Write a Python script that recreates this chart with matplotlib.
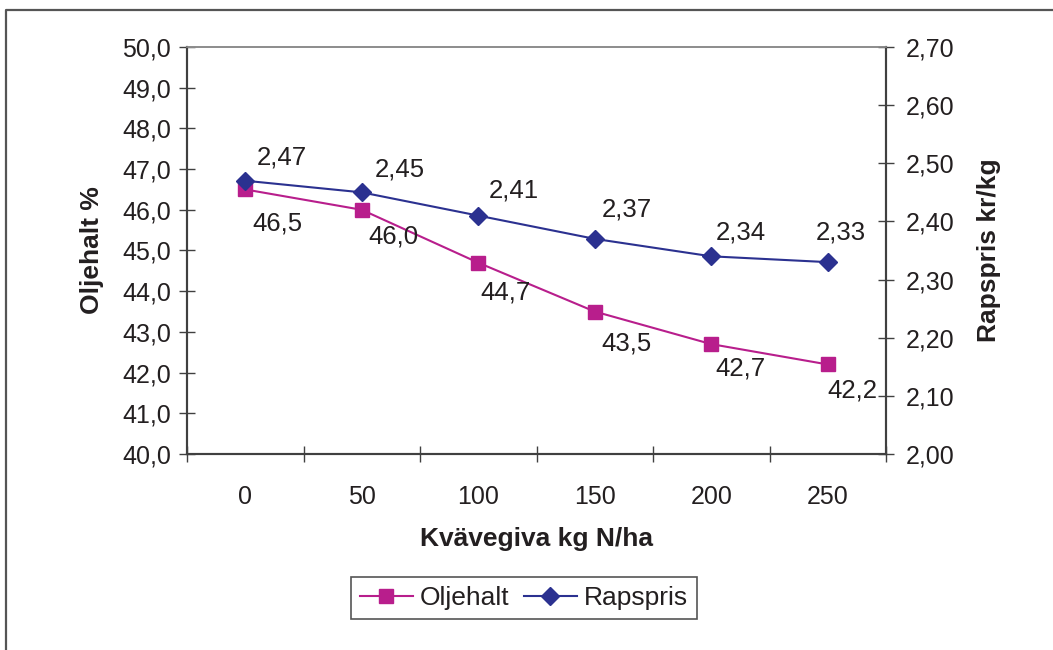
import matplotlib.pyplot as plt
from matplotlib.lines import Line2D
from matplotlib.ticker import FixedLocator, FuncFormatter

plt.rcParams['font.family'] = ['Liberation Sans', 'DejaVu Sans']

##### Data ###########################################################
kvave = ['0', '50', '100', '150', '200', '250']
oljehalt = [46.5, 46.0, 44.7, 43.5, 42.7, 42.2]
rapspris = [2.47, 2.45, 2.41, 2.37, 2.34, 2.33]

# label offsets (pixels) as placed in the original chart
olj_off = [(32, -34), (32, -27), (27, -30), (32, -32), (29, -24), (25, -26)]
rap_off = [(37, 23), (38, 23), (36, 25), (32, 29), (30, 24), (13, 30)]

MAG = '#B81E8C'
NAVY = '#2B3190'
TXT = '#231F20'
AX = '#404040'
FS = 18
FS_LAB = 18.5
FS_BOLD = 19

fig = plt.figure(figsize=(10.53, 6.5), dpi=100)
ax = fig.add_axes([187 / 1053, 1 - 454 / 650, 699 / 1053, 407 / 650])
ax2 = ax.twinx()

x = list(range(len(kvave)))
l1, = ax.plot(x, oljehalt, color=MAG, lw=1.5, marker='s', markersize=9.5,
              label='Oljehalt', zorder=3)
l2, = ax2.plot(x, rapspris, color=NAVY, lw=1.5, marker='D', markersize=9,
               label='Rapspris', zorder=3)

for xi, v, off in zip(x, oljehalt, olj_off):
    ax.annotate(f'{v:.1f}'.replace('.', ','), (xi, v), xytext=off,
                textcoords='offset pixels', ha='center', va='center',
                fontsize=FS_LAB, color=TXT)
for xi, v, off in zip(x, rapspris, rap_off):
    ax2.annotate(f'{v:.2f}'.replace('.', ','), (xi, v), xytext=off,
                 textcoords='offset pixels', ha='center', va='center',
                 fontsize=FS_LAB, color=TXT)

##### Axes ###########################################################
ax.set_xlim(-0.5, len(kvave) - 0.5)
ax.set_ylim(40, 50)
ax2.set_ylim(2.0, 2.7)

ax.xaxis.set_major_locator(FixedLocator([i - 0.5 for i in range(len(kvave) + 1)]))
ax.xaxis.set_minor_locator(FixedLocator(x))
ax.xaxis.set_major_formatter(FuncFormatter(lambda v, p: ''))
ax.xaxis.set_minor_formatter(FuncFormatter(lambda v, p: kvave[int(round(v))]))
ax.tick_params(axis='x', which='major', direction='inout', length=11, width=1, color=AX)
ax.tick_params(axis='x', which='minor', length=0, pad=22, labelsize=FS, labelcolor=TXT)

ax.set_yticks([40 + i for i in range(11)])
ax.yaxis.set_major_formatter(FuncFormatter(lambda v, p: f'{v:.1f}'.replace('.', ',')))
ax.tick_params(axis='y', direction='inout', length=11, width=1, color=AX,
               labelsize=FS, labelcolor=TXT, pad=6)

ax2.set_yticks([2.0 + 0.1 * i for i in range(8)])
ax2.yaxis.set_major_formatter(FuncFormatter(lambda v, p: f'{v:.2f}'.replace('.', ',')))
ax2.tick_params(axis='y', direction='inout', length=11, width=1, color=AX,
                labelsize=FS, labelcolor=TXT, pad=9)

for a in (ax, ax2):
    for s in ('left', 'bottom', 'right'):
        a.spines[s].set_color(AX)
        a.spines[s].set_linewidth(1.5)
    a.spines['top'].set_color('#8c8c8c')
    a.spines['top'].set_linewidth(1.2)

ax.set_xlabel('Kvävegiva kg N/ha', fontsize=FS_BOLD, fontweight='bold', color=TXT, labelpad=13)
ax.set_ylabel('Oljehalt %', fontsize=FS_BOLD, fontweight='bold', color=TXT, labelpad=13)
ax2.set_ylabel('Rapspris kr/kg', fontsize=FS_BOLD, fontweight='bold', color=TXT, labelpad=16)

##### Legend #########################################################
leg = fig.legend(handles=[l1, l2], loc='center', bbox_to_anchor=(524 / 1053, 1 - 598 / 650),
                 ncol=2, fontsize=FS_BOLD, frameon=True, fancybox=False, framealpha=1,
                 edgecolor='#555555', handlelength=2.0, handletextpad=0.27,
                 columnspacing=0.55, borderpad=0.35)
leg.get_frame().set_linewidth(1.2)
for t in leg.get_texts():
    t.set_color(TXT)

##### Outer border (left and top edge only visible) ##################
fig.add_artist(Line2D([6 / 1053, 6 / 1053, 1.0], [0.0, 1 - 10 / 650, 1 - 10 / 650],
                      color='#555555', lw=1.6, transform=fig.transFigure))

plt.savefig('out.png', dpi=100)
